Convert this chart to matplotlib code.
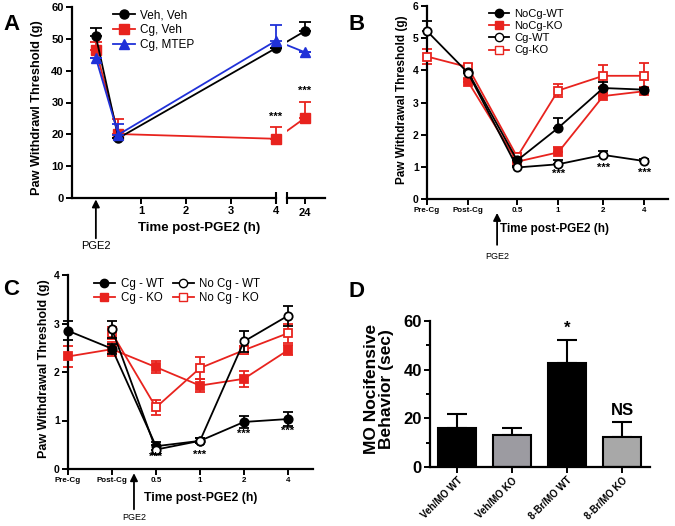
import numpy as np
import matplotlib.pyplot as plt
from matplotlib.lines import Line2D

plt.rcParams['font.family'] = ['Liberation Sans', 'DejaVu Sans']

W, H = 675, 526
RED = '#e8231e'
BLUE = '#2031d8'
nan = np.nan

# ---- panel A data (hours post PGE2) ----
a_hours = [0, 0.5, 4, 24]
a_veh_veh = [50.8, 18.8, 47.1, 52.4]
a_veh_veh_err = [2.7, 0.0, 0.0, 2.9]
a_cg_veh = [46.4, 20.1, 18.6, 25.1]
a_cg_veh_err = [2.6, 4.8, 3.8, 5.2]
a_cg_mtep = [44.0, 19.9, 49.4, 45.8]
a_cg_mtep_err = [0.0, 3.4, 4.8, 0.0]
a_sig_hours = [4, 24]
a_sig_y = [24.0, 32.0]

# ---- panel B data ----
b_labels = ['Pre-Cg', 'Post-Cg', '0.5', '1', '2', '4']
b_nocg_wt = [nan, 3.95, 1.20, 2.21, 3.45, 3.40]
b_nocg_wt_err = [0, 0, 0.08, 0.30, 0.20, 0.05]
b_nocg_ko = [nan, 3.65, 1.16, 1.45, 3.20, 3.35]
b_nocg_ko_err = [0, 0.08, 0.08, 0.17, 0.08, 0.08]
b_cg_wt = [5.22, 3.92, 0.98, 1.08, 1.37, 1.18]
b_cg_wt_err = [0.30, 0.05, 0.05, 0.12, 0.13, 0.05]
b_cg_ko = [4.43, 4.10, 1.31, 3.37, 3.83, 3.83]
b_cg_ko_err = [0.22, 0.10, 0.12, 0.21, 0.35, 0.40]
b_sig_idx = [3, 4, 5]
b_sig_y = [0.78, 0.98, 0.80]

# ---- panel C data ----
c_labels = ['Pre-Cg', 'Post-Cg', '0.5', '1', '2', '4']
c_cg_wt = [2.85, 2.48, 0.47, 0.58, 0.97, 1.03]
c_cg_wt_err = [0.20, 0.10, 0.08, 0.05, 0.13, 0.14]
c_cg_ko = [2.32, 2.47, 2.10, 1.72, 1.86, 2.45]
c_cg_ko_err = [0.21, 0.15, 0.12, 0.13, 0.17, 0.10]
c_nocg_wt = [nan, 2.88, 0.40, 0.58, 2.63, 3.16]
c_nocg_wt_err = [0, 0.17, 0.10, 0.05, 0.22, 0.21]
c_nocg_ko = [nan, 2.80, 1.27, 2.08, 2.45, 2.80]
c_nocg_ko_err = [0, 0.12, 0.15, 0.22, 0.08, 0.20]
c_sig_idx = [2, 3, 4, 5]
c_sig_y = [0.26, 0.30, 0.72, 0.78]

# ---- panel D data ----
d_labels = ['Veh/MO WT', 'Veh/MO KO', '8-Br/MO WT', '8-Br/MO KO']
d_values = [16.1, 13.2, 42.6, 12.5]
d_err = [5.6, 2.7, 9.7, 6.1]
d_colors = ['black', '#9c9ba1', 'black', '#a8a8a8']
d_marks = ['', '', '*', 'NS']


fig = plt.figure(figsize=(W / 100, H / 100), dpi=100)


def add_ax(left, top, right, bottom):
    return fig.add_axes([left / W, 1 - bottom / H, (right - left) / W, (bottom - top) / H])


def style(ax, fs, bottom_only=False):
    for s in ['top', 'right']:
        ax.spines[s].set_visible(False)
    if bottom_only:
        ax.spines['left'].set_visible(False)
    ax.spines['left'].set_linewidth(1.6)
    ax.spines['bottom'].set_linewidth(1.6)
    ax.tick_params(width=1.4, length=4, labelsize=fs, pad=2)
    for lab in ax.get_xticklabels() + ax.get_yticklabels():
        lab.set_fontweight('bold')


def series(ax, x, y, lo, hi, color, marker, filled, z, ms=6.5):
    ax.plot(x, y, color=color, lw=1.3, zorder=z)
    ax.errorbar(x, y, yerr=[lo, hi], fmt=marker, color=color, ecolor=color,
                mfc=color if filled else 'white', mec=color, mew=1.3, ms=ms,
                elinewidth=1.3, capsize=3.5, capthick=1.3, clip_on=False, zorder=z + 0.5)


def pixtext(x, y, s, **kw):
    fig.text(x / W, 1 - y / H, s, **kw)


# ================= Panel A =================
BREAK_POS = 4.64


def a_pos(h):
    return h if h <= 4 else BREAK_POS


ax_a = add_ax(72, 7, 276, 198)
ax_a2 = add_ax(287, 7, 325, 198)
xa = np.array([a_pos(h) for h in a_hours])
zeros = np.zeros(len(a_hours))
a_series = [(a_veh_veh, a_veh_veh_err, 'black', 'o', 3),
            (a_cg_veh, a_cg_veh_err, RED, 's', 2),
            (a_cg_mtep, a_cg_mtep_err, BLUE, '^', 4)]
left_mask = xa <= 4
for vals, err, col, mk, z in a_series:
    vals = np.array(vals)
    err = np.array(err)
    for ax, m in [(ax_a, left_mask), (ax_a2, ~left_mask)]:
        ax.plot(xa, vals, color=col, lw=1.3, zorder=z)
        ax.errorbar(xa[m], vals[m], yerr=[zeros[m], err[m]], fmt=mk, color=col,
                    ecolor=col, mfc=col, mec=col, ms=6.5, elinewidth=1.3,
                    capsize=4, capthick=1.3, clip_on=False, zorder=z + 0.5)
for ax in (ax_a, ax_a2):
    ax.set_ylim(0, 60)
ax_a.set_xlim(-0.53, 4.0)
ax_a2.set_xlim(4.244, 5.09)
ax_a.set_yticks(np.arange(0, 61, 10))
ax_a.set_xticks([1, 2, 3, 4])
ax_a2.set_xticks([BREAK_POS])
ax_a2.set_xticklabels(['24'])
ax_a2.set_yticks([])
style(ax_a, 8)
style(ax_a2, 8, bottom_only=True)
ax_a2.tick_params(pad=3)
# break marks at the ends of the two axis segments
for ax, xf in [(ax_a, 1), (ax_a2, 0)]:
    ax.plot([xf], [0], transform=ax.transAxes, marker='|', ms=9, mew=1.5,
            color='black', clip_on=False)
for h, y in zip(a_sig_hours, a_sig_y):
    ax = ax_a if h <= 4 else ax_a2
    ax.text(a_pos(h), y, '***', ha='center', va='bottom', fontsize=8, fontweight='bold')
leg_a = [Line2D([], [], color='black', marker='o', ms=6.5, lw=1.3),
         Line2D([], [], color=RED, marker='s', ms=6.5, lw=1.3),
         Line2D([], [], color=BLUE, marker='^', ms=6.5, lw=1.3)]
ax_a.legend(leg_a, ['Veh, Veh', 'Cg, Veh', 'Cg, MTEP'], loc='upper left',
            bbox_to_anchor=(105 / W, 1 - 1 / H), bbox_transform=fig.transFigure,
            frameon=False, fontsize=8.5, handlelength=1.8, handletextpad=0.5,
            labelspacing=0.25, borderpad=0.2)
ax_a.annotate('', xy=(0, 0), xycoords=ax_a.get_xaxis_transform(),
              xytext=(0, -29), textcoords='offset points',
              arrowprops=dict(arrowstyle='-|>', color='black', lw=1.3, mutation_scale=11,
                              shrinkA=0, shrinkB=1),
              annotation_clip=False)
ax_a.annotate('PGE2', xy=(0, 0), xycoords=ax_a.get_xaxis_transform(),
              xytext=(0, -31), textcoords='offset points', ha='center', va='top',
              fontsize=8, annotation_clip=False)
pixtext(199, 228, 'Time post-PGE2 (h)', ha='center', va='center', fontsize=9.5, fontweight='bold')
pixtext(37, 108, 'Paw Withdrawl Threshold (g)', ha='center', va='center', rotation=90,
        fontsize=9.2, fontweight='bold')
pixtext(3, 30, 'A', fontsize=16, fontweight='bold', va='baseline')

# ================= Panel B =================
ax_b = add_ax(427, 6, 668, 199)
b_pos = [0, 1, 2.2, 3.2, 4.3, 5.3]
zb = [0] * 6
series(ax_b, b_pos, b_cg_ko, b_cg_ko_err, b_cg_ko_err, RED, 's', False, 2, ms=6)
series(ax_b, b_pos, b_nocg_ko, zb, b_nocg_ko_err, RED, 's', True, 3, ms=6)
series(ax_b, b_pos, b_nocg_wt, zb, b_nocg_wt_err, 'black', 'o', True, 4, ms=6)
series(ax_b, b_pos, b_cg_wt, zb, b_cg_wt_err, 'black', 'o', False, 5, ms=6)
ax_b.set_xlim(0, 5.88)
ax_b.set_ylim(0, 6)
ax_b.set_xticks(b_pos)
ax_b.set_xticklabels(b_labels)
ax_b.set_yticks(range(0, 7))
style(ax_b, 7.5)
for lab in ax_b.get_xticklabels():
    lab.set_fontsize(5.8)
for i, y in zip(b_sig_idx, b_sig_y):
    ax_b.text(b_pos[i], y, '***', ha='center', va='center', fontsize=8, fontweight='bold')
leg_b = [Line2D([], [], color='black', marker='o', ms=6, lw=1.3),
         Line2D([], [], color=RED, marker='s', ms=6, lw=1.3),
         Line2D([], [], color='black', marker='o', mfc='white', ms=6, lw=1.3),
         Line2D([], [], color=RED, marker='s', mfc='white', ms=6, lw=1.3)]
ax_b.legend(leg_b, ['NoCg-WT', 'NoCg-KO', 'Cg-WT', 'Cg-KO'], loc='upper left',
            bbox_to_anchor=(481 / W, 1 - 1 / H), bbox_transform=fig.transFigure,
            frameon=False, fontsize=8, handlelength=1.8, handletextpad=0.5,
            labelspacing=0.2, borderpad=0.2)
ax_b.annotate('', xy=(1.71, 0), xycoords=ax_b.get_xaxis_transform(),
              xytext=(0, -33), textcoords='offset points',
              arrowprops=dict(arrowstyle='-|>', color='black', lw=1.3, mutation_scale=11,
                              shrinkA=0, shrinkB=10),
              annotation_clip=False)
ax_b.annotate('PGE2', xy=(1.71, 0), xycoords=ax_b.get_xaxis_transform(),
              xytext=(0, -38), textcoords='offset points', ha='center', va='top',
              fontsize=6.5, annotation_clip=False)
pixtext(500, 229, 'Time post-PGE2 (h)', ha='left', va='center', fontsize=8.5, fontweight='bold')
pixtext(402, 100, 'Paw Withdrawal Threshold (g)', ha='center', va='center', rotation=90,
        fontsize=8.5, fontweight='bold')
pixtext(349, 30, 'B', fontsize=16, fontweight='bold', va='baseline')

# ================= Panel C =================
ax_c = add_ax(68, 275, 313, 469)
c_pos = np.arange(len(c_labels))
series(ax_c, c_pos, c_cg_ko, c_cg_ko_err, c_cg_ko_err, RED, 's', True, 2, ms=6)
series(ax_c, c_pos, c_nocg_ko, c_nocg_ko_err, c_nocg_ko_err, RED, 's', False, 3, ms=6)
series(ax_c, c_pos, c_cg_wt, c_cg_wt_err, c_cg_wt_err, 'black', 'o', True, 4, ms=6)
series(ax_c, c_pos, c_nocg_wt, c_nocg_wt_err, c_nocg_wt_err, 'black', 'o', False, 5, ms=6)
ax_c.set_xlim(0, 5.57)
ax_c.set_ylim(0, 4)
ax_c.set_xticks(c_pos)
ax_c.set_xticklabels(c_labels)
ax_c.set_yticks(range(0, 5))
style(ax_c, 7.5)
for lab in ax_c.get_xticklabels():
    lab.set_fontsize(5.8)
for i, y in zip(c_sig_idx, c_sig_y):
    ax_c.text(c_pos[i], y, '***', ha='center', va='center', fontsize=8, fontweight='bold', zorder=8)
leg_c = [Line2D([], [], color='black', marker='o', ms=6, lw=1.3),
         Line2D([], [], color=RED, marker='s', ms=6, lw=1.3),
         Line2D([], [], color='black', marker='o', mfc='white', ms=6, lw=1.3),
         Line2D([], [], color=RED, marker='s', mfc='white', ms=6, lw=1.3)]
ax_c.legend(leg_c, ['Cg - WT', 'Cg - KO', 'No Cg - WT', 'No Cg - KO'], loc='upper left',
            ncol=2, bbox_to_anchor=(86 / W, 1 - 270 / H), bbox_transform=fig.transFigure,
            frameon=False, fontsize=8.3, handlelength=1.8, handletextpad=0.5,
            labelspacing=0.15, columnspacing=0.8, borderpad=0.2)
ax_c.annotate('', xy=(1.5, 0), xycoords=ax_c.get_xaxis_transform(),
              xytext=(0, -29), textcoords='offset points',
              arrowprops=dict(arrowstyle='-|>', color='black', lw=1.3, mutation_scale=11,
                              shrinkA=0, shrinkB=3),
              annotation_clip=False)
ax_c.annotate('PGE2', xy=(1.5, 0), xycoords=ax_c.get_xaxis_transform(),
              xytext=(0, -32), textcoords='offset points', ha='center', va='top',
              fontsize=6.5, annotation_clip=False)
pixtext(201, 498, 'Time post-PGE2 (h)', ha='center', va='center', fontsize=8.8, fontweight='bold')
pixtext(44, 369, 'Paw Withdrawal Threshold (g)', ha='center', va='center', rotation=90,
        fontsize=9, fontweight='bold')
pixtext(3, 295, 'C', fontsize=16, fontweight='bold', va='baseline')

# ================= Panel D =================
ax_d = add_ax(430, 321, 650, 467)
d_pos = np.arange(len(d_labels))
ax_d.bar(d_pos, d_values, width=0.68, color=d_colors, edgecolor='black', linewidth=1.5, zorder=2)
ax_d.errorbar(d_pos, d_values, yerr=[np.zeros(4), d_err], fmt='none', ecolor='black',
              elinewidth=1.5, capsize=7, capthick=1.5, zorder=1)
for x, v, e, m in zip(d_pos, d_values, d_err, d_marks):
    if m:
        ax_d.text(x, v + e + 1.5, m, ha='center', va='bottom', fontsize=12, fontweight='bold')
ax_d.set_xlim(-0.49, 3.51)
ax_d.set_ylim(0, 60)
ax_d.set_yticks([0, 20, 40, 60])
ax_d.set_yticks([10, 30, 50], minor=True)
ax_d.set_xticks(d_pos)
ax_d.set_xticklabels(d_labels, rotation=45, ha='right', rotation_mode='anchor')
style(ax_d, 12)
ax_d.tick_params(which='minor', width=1.4, length=3)
for lab in ax_d.get_xticklabels():
    lab.set_fontsize(7)
pixtext(379, 389, 'MO Nocifensive\nBehavior (sec)', ha='center', va='center', rotation=90,
        fontsize=12.5, fontweight='bold', linespacing=1.05)
pixtext(349, 297, 'D', fontsize=16, fontweight='bold', va='baseline')

fig.savefig('out.png', dpi=100)
